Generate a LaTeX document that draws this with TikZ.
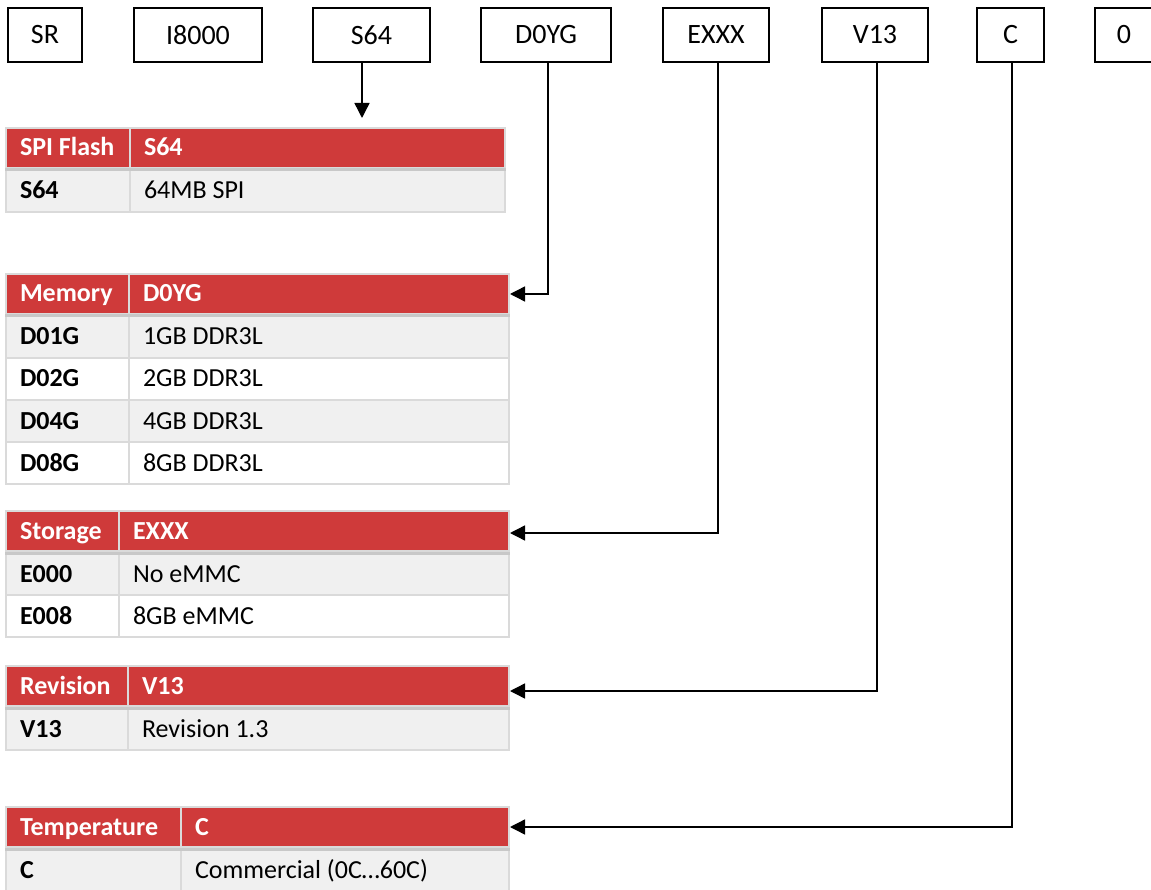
\documentclass[tikz,border=0pt]{standalone}
\usepackage{fontspec}
\setmainfont{Carlito}
\usetikzlibrary{arrows.meta}
\definecolor{hdr}{HTML}{CF3A3A}
\definecolor{rowg}{HTML}{F0F0F0}
\definecolor{grid}{HTML}{DADADA}
\definecolor{hsep}{HTML}{C8C8C8}
\tikzset{
  code/.style={draw=black, line width=2.2pt, minimum height=54pt, inner sep=0pt, font=\fontsize{28}{32}\selectfont},
  cell/.style={draw=grid, line width=2pt, anchor=north west, inner xsep=14pt, inner ysep=0pt, align=flush left, text height=21pt, text depth=5pt, font=\fontsize{26}{30}\selectfont},
  head/.style={cell, fill=hdr, text=white, minimum height=40pt, font=\fontsize{26}{30}\selectfont\bfseries},
  row/.style={cell, minimum height=42pt},
  key/.style={row, font=\fontsize{26}{30}\selectfont\bfseries},
  strip/.style={draw=hsep, line width=3pt},
  conn/.style={draw=black, line width=1.4pt, -{Triangle[length=15pt,width=15pt]}},
}

\begin{document}
\begin{tikzpicture}[x=1pt, y=-1pt]
  \useasboundingbox[fill=white] (0,0) rectangle (1151,890);
  % part number fields
  \foreach \n/\t/\a/\b in {sr/SR/8/82, series/I8000/134/262, flash/S64/313/430, mem/D0YG/481/611, stor/EXXX/663/769, rev/V13/822/928, temp/C/977/1044, opt/0/1095/1153}
    \node[code, minimum width={(\b-\a)*1pt}] (\n) at ({(\a+\b)/2},35) {\t};

  % SPI flash
  \node[head, text width=96pt] (flash-k) at (5,127) {\mbox{SPI Flash}};
  \node[head, text width=347pt] (flash-v) at (129,127) {S64};
  \node[key, fill=rowg, text width=96pt] (flash-k1) at (5,169) {S64};
  \node[row, fill=rowg, text width=347pt] (flash-v1) at (129,169) {64MB SPI};
  \draw[strip] ([yshift=-1pt]flash-k.south west) -- ([yshift=-1pt]flash-v.south east);

  % memory
  \node[head, text width=95pt] (mem-k) at (5,273) {Memory};
  \node[head, text width=352pt] (mem-v) at (128,273) {D0YG};
  \foreach \k/\v/\f [count=\i] in {D01G/1GB DDR3L/rowg, D02G/2GB DDR3L/white, D04G/4GB DDR3L/rowg, D08G/8GB DDR3L/white} {
    \node[key, fill=\f, text width=95pt] (mem-k\i) at (5,{273+42*\i}) {\k};
    \node[row, fill=\f, text width=352pt] (mem-v\i) at (128,{273+42*\i}) {\v};
  }
  \draw[strip] ([yshift=-1pt]mem-k.south west) -- ([yshift=-1pt]mem-v.south east);

  % storage
  \node[head, text width=85pt] (stor-k) at (5,510) {Storage};
  \node[head, text width=362pt] (stor-v) at (118,510) {EXXX};
  \foreach \k/\v/\f [count=\i] in {E000/No eMMC/rowg, E008/8GB eMMC/white} {
    \node[key, fill=\f, text width=85pt] (stor-k\i) at (5,{510+42*\i}) {\k};
    \node[row, fill=\f, text width=362pt] (stor-v\i) at (118,{510+42*\i}) {\v};
  }
  \draw[strip] ([yshift=-1pt]stor-k.south west) -- ([yshift=-1pt]stor-v.south east);

  % revision
  \node[head, text width=94pt] (rev-k) at (5,665) {Revision};
  \node[head, text width=353pt] (rev-v) at (127,665) {V13};
  \node[key, fill=rowg, text width=94pt] (rev-k1) at (5,707) {V13};
  \node[row, fill=rowg, text width=353pt] (rev-v1) at (127,707) {Revision 1.3};
  \draw[strip] ([yshift=-1pt]rev-k.south west) -- ([yshift=-1pt]rev-v.south east);

  % temperature
  \node[head, text width=147pt] (temp-k) at (5,806) {Temperature};
  \node[head, text width=300pt] (temp-v) at (180,806) {C};
  \node[key, fill=rowg, text width=147pt] (temp-k1) at (5,848) {C};
  \node[row, fill=rowg, text width=300pt] (temp-v1) at (180,848) {Commercial (0C…60C)};
  \draw[strip] ([yshift=-1pt]temp-k.south west) -- ([yshift=-1pt]temp-v.south east);

  % connectors
  \draw[conn, shorten >=9pt] ([xshift=-9.5pt]flash.south) -- ([xshift=-9.5pt]flash.south |- flash-v.north);
  \draw[conn] ([xshift=2pt]mem.south) |- (mem-v.east);
  \draw[conn] ([xshift=2pt]stor.south) |- ([yshift=-2pt]stor-v.east);
  \draw[conn] ([xshift=2pt]rev.south) |- ([yshift=-5pt]rev-v.east);
  \draw[conn] ([xshift=1.5pt]temp.south) |- (temp-v.east);
\end{tikzpicture}
\end{document}
